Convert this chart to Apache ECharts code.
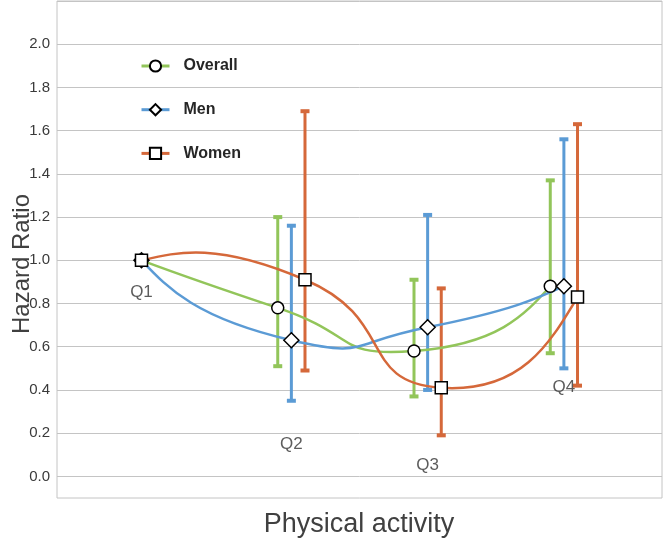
<!DOCTYPE html>
<html><head><meta charset="utf-8">
<script src="https://cdn.jsdelivr.net/npm/echarts@6/dist/echarts.min.js"></script>
<style>html,body{margin:0;padding:0;background:#fff}#c{width:663px;height:546px}</style>
</head><body><div id="c"></div>
<script>
const quarters = ['Q1', 'Q2', 'Q3', 'Q4'];
const seriesNames = ['Overall', 'Men', 'Women'];
const xOverall = [1, 2, 3, 4];
const xMen = [1, 2.1, 3.1, 4.1];
const xWomen = [1, 2.2, 3.2, 4.2];
const hrOverall = [1.0, 0.78, 0.58, 0.88];
const loOverall = [null, 0.51, 0.37, 0.57];
const hiOverall = [null, 1.20, 0.91, 1.37];
const hrMen = [1.0, 0.63, 0.69, 0.88];
const loMen = [null, 0.35, 0.40, 0.50];
const hiMen = [null, 1.16, 1.21, 1.56];
const hrWomen = [1.0, 0.91, 0.41, 0.83];
const loWomen = [null, 0.49, 0.19, 0.42];
const hiWomen = [null, 1.69, 0.87, 1.63];
const yTickLabels = ['0.0', '0.2', '0.4', '0.6', '0.8', '1.0', '1.2', '1.4', '1.6', '1.8', '2.0'];
const quarterLabelX = [1, 2.1, 3.1, 4.1];
const quarterLabelY = [0.85, 0.15, 0.05, 0.41];

const colors = { Overall: '#92c55a', Men: '#5b9bd5', Women: '#d5683a' };
const symbols = { Overall: 'circle', Men: 'diamond', Women: 'rect' };
const symbolSizes = { Overall: 12, Men: 15, Women: 12 };
const groups = {
  Overall: { x: xOverall, hr: hrOverall, lo: loOverall, hi: hiOverall },
  Men: { x: xMen, hr: hrMen, lo: loMen, hi: hiMen },
  Women: { x: xWomen, hr: hrWomen, lo: loWomen, hi: hiWomen }
};
const FONT = '"Liberation Sans", Arial, sans-serif';
const TENSION = 0.3;

function errRender(params, api) {
  const x = api.value(0), lo = api.value(1), hi = api.value(2);
  const pLo = api.coord([x, lo]);
  const pHi = api.coord([x, hi]);
  const color = api.visual('color');
  const w = 4.5, h = 2;
  return {
    type: 'group',
    children: [
      { type: 'line', shape: { x1: pLo[0], y1: pLo[1], x2: pHi[0], y2: pHi[1] }, style: { stroke: color, lineWidth: 3 } },
      { type: 'rect', shape: { x: pHi[0] - w, y: pHi[1] - h, width: 2 * w, height: 2 * h }, style: { fill: color } },
      { type: 'rect', shape: { x: pLo[0] - w, y: pLo[1] - h, width: 2 * w, height: 2 * h }, style: { fill: color } }
    ]
  };
}

function dist(a, b) { return Math.sqrt((a[0] - b[0]) * (a[0] - b[0]) + (a[1] - b[1]) * (a[1] - b[1])); }

// Smoothed curve segment (Excel-like cardinal spline) drawn through the axis scales
function makeCurveRender(g, color) {
  return function (params, api) {
    const i = params.dataIndex;
    const n = g.x.length;
    const P = g.x.map(function (xv, k) { return api.coord([xv, g.hr[k]]); });
    const p1 = P[i], p2 = P[i + 1];
    const d12 = dist(p1, p2);
    let c1 = null, c2 = null;
    if (i > 0) {
      const d01 = dist(P[i - 1], p1);
      const f = TENSION * 2 * d12 / (d01 + d12);
      c1 = [p1[0] + (p2[0] - P[i - 1][0]) * f, p1[1] + (p2[1] - P[i - 1][1]) * f];
    }
    if (i + 2 < n) {
      const d23 = dist(p2, P[i + 2]);
      const f = TENSION * 2 * d12 / (d12 + d23);
      c2 = [p2[0] - (P[i + 2][0] - p1[0]) * f, p2[1] - (P[i + 2][1] - p1[1]) * f];
    }
    if (!c1 && !c2) { c1 = p1; c2 = p2; }
    if (!c1) c1 = [(p1[0] + c2[0]) / 2, (p1[1] + c2[1]) / 2];
    if (!c2) c2 = [(p2[0] + c1[0]) / 2, (p2[1] + c1[1]) / 2];
    return {
      type: 'bezierCurve',
      shape: { x1: p1[0], y1: p1[1], x2: p2[0], y2: p2[1], cpx1: c1[0], cpy1: c1[1], cpx2: c2[0], cpy2: c2[1] },
      style: { stroke: color, lineWidth: 2.5, fill: 'none' }
    };
  };
}

const series = [];
seriesNames.forEach(function (name) {
  const g = groups[name];
  const errData = [];
  g.x.forEach(function (xv, i) {
    if (g.lo[i] != null) errData.push([xv, g.lo[i], g.hi[i]]);
  });
  series.push({
    name: name + ' CI', type: 'custom', renderItem: errRender, data: errData,
    itemStyle: { color: colors[name] }, z: 2, silent: true,
    encode: { x: 0, y: [1, 2] }
  });
});
seriesNames.forEach(function (name) {
  const g = groups[name];
  const segs = [];
  for (let i = 0; i + 1 < g.x.length; i++) segs.push([g.x[i], g.hr[i], g.x[i + 1], g.hr[i + 1]]);
  series.push({
    name: name + ' curve', type: 'custom', renderItem: makeCurveRender(g, colors[name]), data: segs,
    z: 3, silent: true, encode: { x: [0, 2], y: [1, 3] }
  });
});
seriesNames.forEach(function (name) {
  const g = groups[name];
  series.push({
    name: name, type: 'line', z: 4,
    data: g.x.map(function (xv, i) { return [xv, g.hr[i]]; }),
    symbol: symbols[name], symbolSize: symbolSizes[name], showAllSymbol: true,
    lineStyle: { color: colors[name], width: 0, opacity: 0 },
    itemStyle: { color: '#ffffff', borderColor: '#000000', borderWidth: 1.5 }
  });
});
series.push({
  name: 'labels', type: 'scatter', symbolSize: 0, silent: true, z: 5,
  data: quarters.map(function (q, i) { return [quarterLabelX[i], quarterLabelY[i], q]; }),
  label: {
    show: true, position: 'inside', formatter: function (p) { return p.value[2]; },
    fontSize: 17, color: '#333333', fontFamily: FONT
  }
});

const chart = echarts.init(document.getElementById('c'), null, { renderer: 'canvas' });
chart.setOption({
  animation: false,
  backgroundColor: '#ffffff',
  grid: { left: 57, right: 1, top: 1, bottom: 48, show: true, borderColor: '#c4c4c4', borderWidth: 1 },
  xAxis: {
    type: 'value', min: 0.38, max: 4.82,
    axisLine: { show: false }, axisTick: { show: false }, axisLabel: { show: false }, splitLine: { show: false }
  },
  yAxis: {
    type: 'value', min: -0.1, max: 2.2, interval: 0.1,
    axisLine: { show: false }, axisTick: { show: false },
    axisLabel: {
      fontSize: 15, color: '#3a3a3a', fontFamily: FONT, margin: 7,
      formatter: function (v) {
        const s = (Math.round(v * 10) / 10).toFixed(1);
        return yTickLabels.indexOf(s) >= 0 ? s : '';
      }
    },
    splitLine: { show: true, lineStyle: { color: ['rgba(0,0,0,0)', '#c4c4c4'], width: 1 } }
  },
  legend: {
    data: seriesNames.map(function (name) {
      return { name: name, lineStyle: { color: colors[name], width: 3, opacity: 1 } };
    }),
    orient: 'vertical', left: 140, top: 58, padding: 0,
    itemWidth: 28, itemHeight: 14, itemGap: 27.7,
    textStyle: { fontWeight: 'bold', fontSize: 16, color: '#262626', fontFamily: FONT, padding: [0, 0, 0, 9] }
  },
  graphic: [
    { type: 'text', x: 22, y: 264, rotation: Math.PI / 2,
      style: { text: 'Hazard Ratio', fontSize: 24, fill: '#404040', fontFamily: FONT, align: 'center', verticalAlign: 'middle' } },
    { type: 'text', x: 359, y: 525,
      style: { text: 'Physical activity', fontSize: 27, fill: '#404040', fontFamily: FONT, align: 'center', verticalAlign: 'middle' } }
  ],
  series: series
});
</script>
</body></html>
